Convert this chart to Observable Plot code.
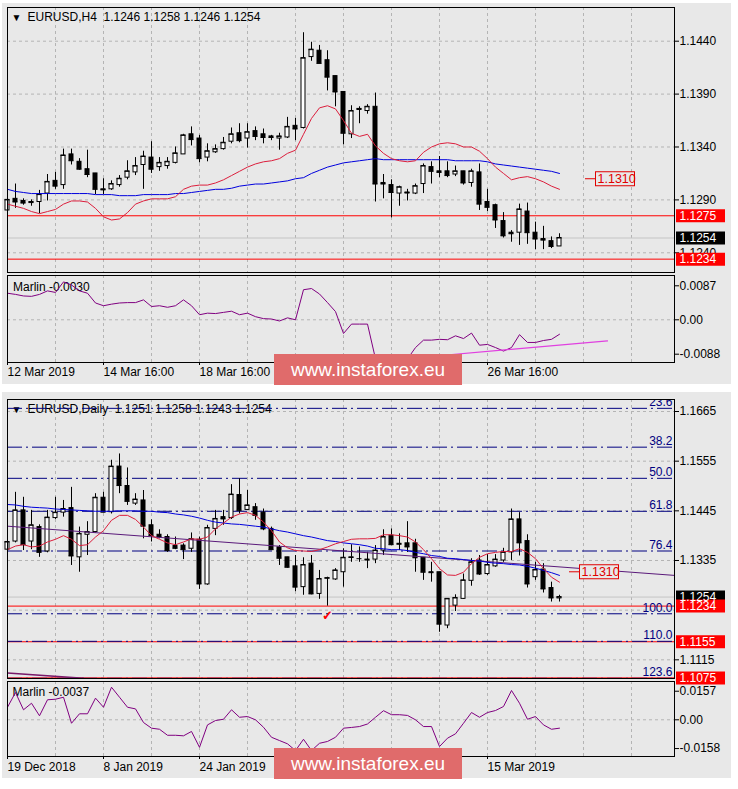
<!DOCTYPE html>
<html><head><meta charset="utf-8">
<script src="https://cdn.jsdelivr.net/npm/d3@7"></script>
<script src="https://cdn.jsdelivr.net/npm/@observablehq/plot@0.6"></script>
<style>
body{margin:0;background:#fff;width:738px;height:789px;overflow:hidden;font-family:"Liberation Sans",Arial,sans-serif}
#root{position:relative;width:738px;height:789px}
.win{position:absolute;background:#e8e8e8}
.wm{position:absolute;left:274px;width:188px;height:31px;background:#e06b6b;color:#fff;font-size:19px;line-height:31px;text-align:center;z-index:10}
</style></head><body>
<div id="root">
  <div class="win" style="left:2px;top:3px;width:729px;height:381px"></div>
  <div class="win" style="left:2px;top:392px;width:729px;height:386px"></div>
</div>
<script>
// ---------------- DATA ----------------
// H4 candles (index 0 = 12 Mar 2019 16:00)
const h4Open = [1.1280,1.1291,1.1289,1.1287,1.1288,1.1296,1.1308,1.1304,1.1333,1.1326,
1.1319,1.1315,1.1299,1.1300,1.1304,1.1311,1.1316,1.1323,1.1330,1.1321,
1.1322,1.1325,1.1333,1.1352,1.1348,1.1330,1.1335,1.1338,1.1345,1.1353,
1.1348,1.1355,1.1352,1.1350,1.1348,1.1349,1.1360,1.1358,1.1425,1.1431,
1.1422,1.1407,1.1392,1.1352,1.1375,1.1374,1.1378,1.1306,1.1304,1.1296,
1.1296,1.1296,1.1305,1.1321,1.1317,1.1317,1.1314,1.1317,1.1306,1.1316,
1.1288,1.1285,1.1270,1.1259,1.1259,1.1279,1.1259,1.1253,1.1251,1.1246];
const h4High = [1.1297,1.1305,1.1291,1.1290,1.1299,1.1314,1.1316,1.1338,1.1338,1.1329,
1.1337,1.1315,1.1310,1.1308,1.1313,1.1327,1.1330,1.1336,1.1345,1.1330,
1.1330,1.1340,1.1352,1.1359,1.1351,1.1343,1.1342,1.1349,1.1358,1.1362,
1.1362,1.1359,1.1357,1.1351,1.1353,1.1368,1.1367,1.1448,1.1439,1.1436,
1.1431,1.1407,1.1392,1.1379,1.1378,1.1380,1.1391,1.1314,1.1309,1.1303,
1.1300,1.1305,1.1324,1.1326,1.1331,1.1326,1.1322,1.1317,1.1319,1.1324,
1.1300,1.1286,1.1278,1.1261,1.1286,1.1287,1.1269,1.1265,1.1255,1.1258];
const h4Low = [1.1275,1.1282,1.1285,1.1284,1.1277,1.1289,1.1300,1.1300,1.1323,1.1318,
1.1311,1.1295,1.1295,1.1299,1.1302,1.1309,1.1313,1.1300,1.1315,1.1317,
1.1319,1.1324,1.1333,1.1341,1.1325,1.1326,1.1334,1.1337,1.1343,1.1344,
1.1339,1.1346,1.1343,1.1346,1.1337,1.1348,1.1346,1.1357,1.1421,1.1419,
1.1393,1.1378,1.1342,1.1348,1.1362,1.1371,1.1288,1.1291,1.1273,1.1284,
1.1289,1.1295,1.1296,1.1305,1.1311,1.1311,1.1312,1.1304,1.1302,1.1280,
1.1279,1.1263,1.1254,1.1250,1.1247,1.1248,1.1243,1.1243,1.1244,1.1246];
const h4Close = [1.1290,1.1288,1.1287,1.1288,1.1295,1.1307,1.1303,1.1332,1.1327,1.1319,
1.1314,1.1300,1.1300,1.1305,1.1310,1.1317,1.1322,1.1331,1.1319,1.1325,
1.1326,1.1334,1.1351,1.1347,1.1329,1.1336,1.1338,1.1344,1.1352,1.1346,
1.1354,1.1350,1.1349,1.1349,1.1350,1.1359,1.1357,1.1424,1.1432,1.1419,
1.1406,1.1392,1.1353,1.1374,1.1376,1.1378,1.1305,1.1305,1.1297,1.1302,
1.1297,1.1303,1.1322,1.1317,1.1316,1.1313,1.1317,1.1306,1.1317,1.1286,
1.1283,1.1271,1.1256,1.1258,1.1281,1.1259,1.1253,1.1252,1.1246,1.1254];
const h4RedMA = [1.1286,1.1284,1.1282,1.1279,1.1277,1.1279,1.1281,1.1286,1.1289,1.1289,
1.1288,1.1282,1.1274,1.1271,1.1272,1.1278,1.1286,1.1289,1.1291,1.1291,
1.1291,1.1293,1.1300,1.1303,1.1304,1.1304,1.1306,1.1309,1.1313,1.1317,
1.1321,1.1324,1.1326,1.1327,1.1329,1.1334,1.1337,1.1352,1.1367,1.1377,
1.1379,1.1376,1.1365,1.1353,1.1350,1.1352,1.1341,1.1334,1.1329,1.1327,
1.1326,1.1327,1.1335,1.1340,1.1343,1.1344,1.1343,1.1340,1.1340,1.1336,
1.1329,1.1321,1.1315,1.1309,1.1311,1.1312,1.1310,1.1307,1.1303,1.1300];
const h4BlueMA = [1.1300,1.1298,1.1297,1.1296,1.1296,1.1296,1.1296,1.1296,1.1296,1.1296,
1.1296,1.1295,1.1295,1.1295,1.1294,1.1294,1.1294,1.1295,1.1295,1.1295,
1.1295,1.1296,1.1296,1.1297,1.1298,1.1299,1.1300,1.1300,1.1301,1.1303,
1.1304,1.1305,1.1305,1.1306,1.1307,1.1308,1.1310,1.1311,1.1315,1.1318,
1.1321,1.1323,1.1325,1.1326,1.1327,1.1328,1.1329,1.1328,1.1328,1.1328,
1.1328,1.1328,1.1328,1.1328,1.1328,1.1328,1.1327,1.1327,1.1327,1.1327,
1.1326,1.1324,1.1323,1.1322,1.1321,1.1320,1.1319,1.1318,1.1317,1.1315];
const h4Marlin = [0.0068,0.0065,0.0061,0.0060,0.0065,0.0074,0.0070,0.0097,0.0089,0.0074,
0.0068,0.0043,0.0036,0.0040,0.0043,0.0044,0.0044,0.0051,0.0034,0.0036,
0.0032,0.0036,0.0051,0.0036,0.0013,0.0017,0.0016,0.0019,0.0022,0.0013,
0.0017,0.0008,0.0003,0.0002,-0.0003,0.0005,0.0000,0.0077,0.0080,0.0066,
0.0044,0.0021,-0.0035,-0.0011,-0.0011,-0.0011,-0.0100,-0.0120,-0.0125,-0.0115,
-0.0100,-0.0071,-0.0052,-0.0052,-0.0050,-0.0051,-0.0041,-0.0048,-0.0034,-0.0065,
-0.0063,-0.0071,-0.0080,-0.0071,-0.0038,-0.0058,-0.0058,-0.0053,-0.0050,-0.0037];
const h4MarlinTrend = [{i: 50, v: -0.0099}, {i: 75, v: -0.0054}];
const h4Levels = [1.1275, 1.1234];
const h4Bid = 1.1254;
const h4Ticks = [1.1440, 1.1390, 1.1340, 1.1290, 1.1240];
const h4MarlinTicks = [0.0087, 0, -0.0088];
const h4DateBars = [0, 12, 24, 36, 48, 60];
// labels at bars 36 and 48 sit under the watermark in the reference and are not visible
const h4DateLabels = ["12 Mar 2019", "14 Mar 16:00", "18 Mar 16:00", "", "", "26 Mar 16:00"];
const h4PriceLabel = {i: 73.5, p: 1.1310};
const h4Header = "EURUSD,H4  1.1246 1.1258 1.1246 1.1254";
const h4MarlinHeader = "Marlin -0.0030";
const h4Boxes = [
  {p: 1.1275, text: "1.1275", color: "#ff0000"},
  {p: 1.1254, text: "1.1254", color: "#000000"},
  {p: 1.1234, text: "1.1234", color: "#ff0000"}
];

// Daily candles (index 0 = 19 Dec 2018)
const d1Open = [1.1359,1.1377,1.1446,1.1377,1.1409,1.1355,1.1429,1.1441,1.1451,1.1342,
1.1392,1.1398,1.1474,1.1442,1.1543,1.1500,1.1461,1.1468,1.1413,1.1392,
1.1387,1.1367,1.1368,1.1361,1.1381,1.1282,1.1405,1.1431,1.1429,1.1480,
1.1447,1.1453,1.1441,1.1405,1.1364,1.1342,1.1322,1.1276,1.1328,1.1261,
1.1295,1.1293,1.1309,1.1341,1.1339,1.1337,1.1337,1.1357,1.1390,1.1372,
1.1373,1.1373,1.1341,1.1309,1.1309,1.1191,1.1235,1.1250,1.1290,1.1335,
1.1305,1.1322,1.1335,1.1353,1.1426,1.1378,1.1298,1.1315,1.1274,1.1251];
const d1High = [1.1385,1.1486,1.1475,1.1446,1.1414,1.1446,1.1475,1.1468,1.1497,1.1409,
1.1421,1.1483,1.1486,1.1557,1.1571,1.1540,1.1483,1.1490,1.1425,1.1403,
1.1392,1.1387,1.1372,1.1396,1.1387,1.1413,1.1446,1.1446,1.1503,1.1516,
1.1490,1.1461,1.1449,1.1409,1.1368,1.1342,1.1346,1.1341,1.1346,1.1313,
1.1298,1.1317,1.1361,1.1370,1.1365,1.1353,1.1368,1.1403,1.1405,1.1394,
1.1421,1.1382,1.1341,1.1331,1.1309,1.1250,1.1259,1.1305,1.1339,1.1346,
1.1348,1.1348,1.1362,1.1449,1.1441,1.1392,1.1331,1.1328,1.1287,1.1258];
const d1Low = [1.1353,1.1374,1.1357,1.1359,1.1342,1.1352,1.1426,1.1431,1.1324,1.1309,
1.1346,1.1396,1.1441,1.1438,1.1483,1.1457,1.1457,1.1383,1.1376,1.1383,
1.1353,1.1359,1.1337,1.1353,1.1271,1.1280,1.1390,1.1413,1.1426,1.1438,
1.1446,1.1424,1.1401,1.1359,1.1324,1.1318,1.1266,1.1258,1.1259,1.1249,
1.1234,1.1291,1.1276,1.1331,1.1331,1.1317,1.1328,1.1346,1.1368,1.1357,
1.1353,1.1309,1.1291,1.1287,1.1176,1.1184,1.1222,1.1249,1.1278,1.1302,
1.1302,1.1320,1.1331,1.1335,1.1345,1.1274,1.1291,1.1263,1.1243,1.1243];
const d1Close = [1.1376,1.1446,1.1370,1.1413,1.1353,1.1430,1.1441,1.1449,1.1345,1.1394,
1.1398,1.1474,1.1442,1.1543,1.1501,1.1466,1.1470,1.1411,1.1390,1.1387,
1.1357,1.1362,1.1359,1.1382,1.1283,1.1407,1.1427,1.1427,1.1481,1.1446,
1.1457,1.1435,1.1405,1.1359,1.1340,1.1320,1.1276,1.1325,1.1261,1.1294,
1.1296,1.1313,1.1341,1.1342,1.1339,1.1336,1.1357,1.1387,1.1370,1.1371,
1.1365,1.1341,1.1309,1.1308,1.1194,1.1250,1.1252,1.1291,1.1331,1.1305,
1.1325,1.1337,1.1353,1.1426,1.1374,1.1283,1.1314,1.1272,1.1252,1.1254];
const d1RedMA = [1.1359,1.1367,1.1370,1.1365,1.1367,1.1376,1.1382,1.1390,1.1382,1.1368,
1.1370,1.1387,1.1401,1.1424,1.1435,1.1435,1.1426,1.1409,1.1390,1.1382,
1.1374,1.1370,1.1376,1.1383,1.1382,1.1387,1.1405,1.1418,1.1431,1.1438,
1.1441,1.1435,1.1420,1.1401,1.1376,1.1363,1.1357,1.1356,1.1355,1.1359,
1.1365,1.1372,1.1377,1.1382,1.1383,1.1383,1.1384,1.1392,1.1392,1.1390,
1.1387,1.1376,1.1359,1.1339,1.1317,1.1303,1.1302,1.1309,1.1328,1.1342,
1.1350,1.1353,1.1355,1.1355,1.1361,1.1353,1.1339,1.1317,1.1298,1.1287];
const d1BlueMA = [1.1459,1.1458,1.1455,1.1453,1.1452,1.1451,1.1449,1.1448,1.1447,1.1446,
1.1445,1.1444,1.1444,1.1444,1.1445,1.1445,1.1445,1.1444,1.1444,1.1442,
1.1441,1.1438,1.1436,1.1433,1.1429,1.1424,1.1420,1.1418,1.1416,1.1415,
1.1413,1.1411,1.1409,1.1405,1.1401,1.1398,1.1394,1.1390,1.1387,1.1383,
1.1379,1.1377,1.1374,1.1372,1.1370,1.1367,1.1362,1.1361,1.1359,1.1359,
1.1357,1.1353,1.1350,1.1346,1.1344,1.1340,1.1339,1.1337,1.1335,1.1334,
1.1331,1.1329,1.1328,1.1326,1.1325,1.1322,1.1318,1.1313,1.1308,1.1302];
const d1Marlin = [0.0069,0.0150,0.0055,0.0091,0.0022,0.0110,0.0113,0.0124,-0.0019,0.0033,
0.0033,0.0119,0.0069,0.0179,0.0124,0.0069,0.0060,-0.0015,-0.0046,-0.0052,
-0.0085,-0.0085,-0.0088,-0.0064,-0.0151,-0.0028,-0.0004,0.0003,0.0055,0.0014,
0.0018,0.0000,-0.0041,-0.0096,-0.0114,-0.0132,-0.0169,-0.0107,-0.0169,-0.0129,
-0.0119,-0.0096,-0.0046,-0.0042,-0.0037,-0.0023,0.0014,0.0050,0.0028,0.0028,
0.0024,0.0000,-0.0037,-0.0037,-0.0147,-0.0101,-0.0077,-0.0019,0.0040,0.0014,
0.0040,0.0051,0.0073,0.0161,0.0091,0.0003,0.0018,-0.0028,-0.0052,-0.0046];
const d1Trend = [{i: 0, p: 1.1411}, {i: 83.375, p: 1.1302}];
const d1TrendLow = [{i: 0, p: 1.1086}, {i: 9.5, p: 1.1074}];
const fibPrices = [1.1672, 1.1586, 1.1517, 1.1444, 1.1356, 1.1217, 1.1156, 1.1074];
const fibLabels = ["23.6", "38.2", "50.0", "61.8", "76.4", "100.0", "110.0", "123.6"];
const d1Levels = [1.1234, 1.1155, 1.1075];
const d1Bid = 1.1254;
const d1Grid = [1.1665, 1.1555, 1.1445, 1.1335, 1.1225, 1.1115];
// 1.1225 label sits fully under the price boxes in the reference, so only its grid line shows
const d1Ticks = [1.1665, 1.1555, 1.1445, 1.1335, 1.1115];
const d1MarlinTicks = [0.0157, 0, -0.0158];
const d1DateBars = [0, 12, 24, 36, 48, 60];
// labels at bars 36 and 48 sit under the watermark in the reference and are not visible
const d1DateLabels = ["19 Dec 2018", "8 Jan 2019", "24 Jan 2019", "", "", "15 Mar 2019"];
const d1PriceLabel = {i: 71.5, p: 1.1310};
const d1Check = [{i: 40, p: 1.1213}];
const d1Header = "EURUSD,Daily  1.1251 1.1258 1.1243 1.1254";
const d1MarlinHeader = "Marlin -0.0037";
const d1Boxes = [
  {p: 1.1254, text: "1.1254", color: "#000000"},
  {p: 1.1234, text: "1.1234", color: "#ff0000"},
  {p: 1.1155, text: "1.1155", color: "#ff0000"},
  {p: 1.1075, text: "1.1075", color: "#ff0000"}
];
const gridBars = [6,12,18,24,30,36,42,48,54,60,66,72,78];

// ---------------- HELPERS ----------------
const root = document.getElementById("root");
const FONT = '"Liberation Sans", Arial, sans-serif';
const BG = "#e8e8e8";
const X_DOMAIN = [0, 83.375];
const FRAME_W = 667, AXIS_W = 64;
const xBox1 = X_DOMAIN[1] + 0.25, xBox2 = X_DOMAIN[1] + 6.375;
const GRID = {stroke: "#b4b4b4", strokeOpacity: 1, strokeDasharray: "3,3"};

const candles = (o, h, l, c) => o.map((v, i) => ({i, open: v, high: h[i], low: l[i], close: c[i]}));
const series = (arr) => arr.map((v, i) => ({i, v}));
const h4 = candles(h4Open, h4High, h4Low, h4Close);
const d1 = candles(d1Open, d1High, d1Low, d1Close);

function addPlot(top, frameH, yDomain, marks, marginBottom = 0) {
  const svg = Plot.plot({
    width: FRAME_W + AXIS_W, height: frameH + marginBottom,
    marginLeft: 0, marginRight: AXIS_W, marginTop: 0, marginBottom,
    x: {domain: X_DOMAIN, axis: null, label: null},
    y: {domain: yDomain, axis: null, label: null},
    style: {background: "transparent", fontFamily: FONT, fontSize: "12px", overflow: "visible", color: "black"},
    marks
  });
  svg.style.position = "absolute";
  svg.style.left = "7px";
  svg.style.top = top + "px";
  svg.style.overflow = "visible";
  root.appendChild(svg);
}

function candleMarks(data) {
  return [
    Plot.ruleX(data, {x: "i", y1: "low", y2: "high", stroke: "black"}),
    Plot.rect(data, {x1: d => d.i - 0.25, x2: d => d.i + 0.25, y1: "open", y2: "close",
      fill: d => d.close >= d.open ? "white" : "black", stroke: "black"}),
    Plot.ruleY(data, {y: "close", x1: d => d.i - 0.3125, x2: d => d.i + 0.3125, stroke: "black"})
  ];
}

function priceBoxes(items) {
  return [
    Plot.ruleY(items, {y: "p", x1: xBox1, x2: xBox2, stroke: "color", strokeWidth: 13}),
    Plot.text(items, {y: "p", x: xBox1, dx: 3, text: "text", fill: "white", textAnchor: "start", fontSize: 12})
  ];
}

function markerLabel(lbl) {
  const d = [lbl];
  return [
    Plot.ruleY(d, {y: "p", x1: v => v.i - 1.25, x2: "i", stroke: "#e00000"}),
    Plot.ruleY(d, {y: "p", x1: "i", x2: v => v.i + 5, stroke: "#e00000", strokeWidth: 15}),
    Plot.ruleY(d, {y: "p", x1: v => v.i + 0.125, x2: v => v.i + 4.875, stroke: BG, strokeWidth: 13}),
    Plot.text(d, {y: "p", x: "i", dx: 2, text: v => v.p.toFixed(4), fill: "#e00000", textAnchor: "start", fontSize: 12.5})
  ];
}

function header(title, dy) {
  return [
    Plot.text(["▼"], {frameAnchor: "top-left", text: d => d, dx: 4, dy, fontSize: 10, lineAnchor: "middle", textAnchor: "start"}),
    Plot.text([title], {frameAnchor: "top-left", text: d => d, dx: 20, dy, lineAnchor: "middle", textAnchor: "start"})
  ];
}

function dateAxis(bars, labels, dy) {
  const data = bars.map((b, k) => ({i: b, label: labels[k]})).filter(d => d.label !== "");
  return [
    Plot.axisX(bars, {anchor: "bottom", tickSize: 3, tickFormat: () => "", stroke: "black", label: null}),
    Plot.text(data, {x: "i", text: "label", frameAnchor: "bottom", dy, textAnchor: "start", lineAnchor: "middle", fontSize: 12})
  ];
}

const fmtP = d => d.toFixed(4);
const fmtM = d => d === 0 ? "0.00" : d.toFixed(4);
const yAxis = (ticks, fmt) => Plot.axisY(ticks, {anchor: "right", tickSize: 4, tickPadding: 1, tickFormat: fmt, fontSize: 12, label: null});

// ---------------- TOP: H4 price ----------------
addPlot(7, 265, [1.122138, 1.147185], [
  Plot.gridX(gridBars, GRID),
  Plot.gridY(h4Ticks, GRID),
  yAxis(h4Ticks, fmtP),
  Plot.ruleY([h4Bid], {stroke: "#c4c4c4"}),
  Plot.ruleY(h4Levels, {stroke: "#ff0000"}),
  ...header(h4Header, 10),
  ...candleMarks(h4),
  Plot.line(series(h4BlueMA), {x: "i", y: "v", stroke: "#0000dd", strokeWidth: 1}),
  Plot.line(series(h4RedMA), {x: "i", y: "v", stroke: "#dc1e3c", strokeWidth: 1}),
  ...markerLabel(h4PriceLabel),
  ...priceBoxes(h4Boxes),
  Plot.frame({stroke: "black"})
]);

// ---------------- TOP: H4 Marlin ----------------
addPlot(275, 87, [-0.010926, 0.011336], [
  Plot.gridX(gridBars, GRID),
  Plot.gridY([0], GRID),
  yAxis(h4MarlinTicks, fmtM),
  Plot.text([h4MarlinHeader], {frameAnchor: "top-left", text: d => d, dx: 5.5, dy: 12, lineAnchor: "middle", textAnchor: "start"}),
  Plot.line(series(h4Marlin), {x: "i", y: "v", stroke: "#800080", strokeWidth: 1, clip: true}),
  Plot.line(h4MarlinTrend, {x: "i", y: "v", stroke: "#e040e0", strokeWidth: 1.2, clip: true}),
  ...dateAxis(h4DateBars, h4DateLabels, 10),
  Plot.frame({stroke: "black"})
], 24);

// ---------------- BOTTOM: Daily price ----------------
addPlot(399, 279, [1.107364, 1.169158], [
  Plot.gridX(gridBars, GRID),
  Plot.gridY(d1Grid, GRID),
  yAxis(d1Ticks, fmtP),
  Plot.ruleY([d1Bid], {stroke: "#c4c4c4"}),
  Plot.ruleY(d1Levels, {stroke: "#ff0000"}),
  ...header(d1Header, 10),
  Plot.ruleY(fibPrices, {stroke: "#000080", strokeDasharray: "15,4,2,4"}),
  Plot.text(fibPrices.map((p, k) => ({p, label: fibLabels[k]})), {y: "p", text: "label", frameAnchor: "right", dx: -2, dy: -6, textAnchor: "end", lineAnchor: "middle", fill: "#000080", clip: true}),
  ...candleMarks(d1),
  Plot.line(d1Trend, {x: "i", y: "p", stroke: "#5a1a7a", strokeWidth: 1, clip: true}),
  Plot.line(d1TrendLow, {x: "i", y: "p", stroke: "#7a1a6a", strokeWidth: 1.5, clip: true}),
  Plot.line(series(d1BlueMA), {x: "i", y: "v", stroke: "#0000dd", strokeWidth: 1}),
  Plot.line(series(d1RedMA), {x: "i", y: "v", stroke: "#dc1e3c", strokeWidth: 1}),
  Plot.text(d1Check, {x: "i", y: "p", text: () => "✓", fill: "#ff0000", fontSize: 13, fontWeight: "bold"}),
  ...markerLabel(d1PriceLabel),
  ...priceBoxes(d1Boxes),
  Plot.frame({stroke: "black"})
]);

// ---------------- BOTTOM: Daily Marlin ----------------
addPlot(681, 75, [-0.020165, 0.021044], [
  Plot.gridX(gridBars, GRID),
  Plot.gridY([0], GRID),
  yAxis(d1MarlinTicks, fmtM),
  Plot.text([d1MarlinHeader], {frameAnchor: "top-left", text: d => d, dx: 5, dy: 11, lineAnchor: "middle", textAnchor: "start"}),
  Plot.line(series(d1Marlin), {x: "i", y: "v", stroke: "#800080", strokeWidth: 1, clip: true}),
  ...dateAxis(d1DateBars, d1DateLabels, 10.5),
  Plot.frame({stroke: "black"})
], 24);

// ---------------- watermarks ----------------
for (const top of [354, 748]) {
  const wm = document.createElement("div");
  wm.className = "wm";
  wm.style.top = top + "px";
  wm.textContent = "www.instaforex.eu";
  root.appendChild(wm);
}
</script>
</body></html>
